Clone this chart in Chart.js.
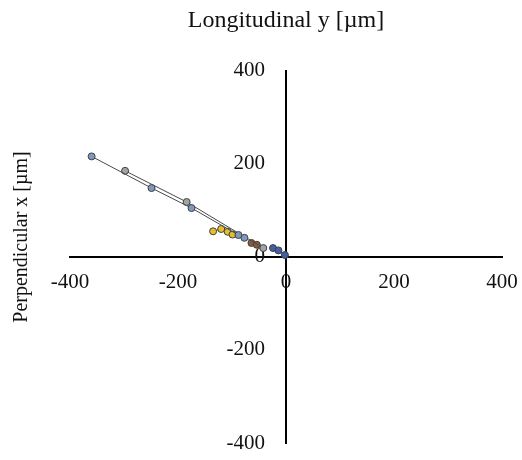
<!DOCTYPE html>
<html>
<head>
<meta charset="utf-8">
<script src="https://cdn.jsdelivr.net/npm/chart.js@4.4.1/dist/chart.umd.min.js"></script>
<style>
html,body{margin:0;padding:0;background:#fff;}
#wrap{position:relative;width:522px;height:460px;}
</style>
</head>
<body>
<div id="wrap"><canvas id="c" width="522" height="460"></canvas></div>
<script>
// Data (x = longitudinal y [µm], y = perpendicular x [µm])
const seriesNames = ['A', 'B', 'C', 'D', 'E'];
const seriesA_x = [-360, -249, -175, -88, -77];
const seriesA_y = [216, 148, 105, 47, 41];
const seriesB_x = [-298, -184, -42];
const seriesB_y = [185, 118, 19];
const seriesC_x = [-135, -120, -108, -99];
const seriesC_y = [55, 60, 54, 48];
const seriesD_x = [-64, -54];
const seriesD_y = [30, 26];
const seriesE_x = [-24, -14, -2];
const seriesE_y = [19, 14, 4];
const seriesColors = ['#7f98c0', '#a3a3a3', '#e3bf2e', '#8a5a3c', '#3f5fa6'];
const axisTicks = [-400, -200, 0, 200, 400];
const titleX = 'Longitudinal y [µm]';
const titleY = 'Perpendicular x [µm]';

const xs = [seriesA_x, seriesB_x, seriesC_x, seriesD_x, seriesE_x];
const ys = [seriesA_y, seriesB_y, seriesC_y, seriesD_y, seriesE_y];

const datasets = seriesNames.map((n, i) => ({
  label: n,
  data: xs[i].map((x, j) => ({x: x, y: ys[i][j]})),
  showLine: true,
  borderColor: '#4a4a4a',
  borderWidth: 1,
  pointBackgroundColor: seriesColors[i],
  pointBorderColor: '#404040',
  pointBorderWidth: 1,
  pointRadius: 3.5,
  fill: false
}));

const serif = "'Liberation Serif', 'Times New Roman', serif";

const yTitlePlugin = {
  id: 'yTitle',
  beforeDraw(chart) {
    // shift y tick labels to the left of the centered axis
    const s = chart.scales.y;
    const items = s.getLabelItems(chart.chartArea);
    items.forEach(it => {
      if (!it._shifted) { it.options.translation[0] -= 21; it._shifted = true; }
    });
  },
  afterDraw(chart) {
    const ctx = chart.ctx;
    ctx.save();
    ctx.translate(22, 237);
    ctx.rotate(-Math.PI / 2);
    ctx.font = "20px " + serif;
    ctx.fillStyle = '#111';
    ctx.textAlign = 'center';
    ctx.textBaseline = 'middle';
    ctx.fillText(titleY, 0, 0);
    ctx.restore();
  }
};

const noPad = (s) => { s.paddingLeft = 0; s.paddingRight = 0; s.paddingTop = 0; s.paddingBottom = 0; };

new Chart(document.getElementById('c'), {
  type: 'scatter',
  data: {datasets},
  options: {
    responsive: false,
    animation: false,
    layout: {padding: {left: 70, right: 20, top: 0, bottom: 17}},
    plugins: {
      legend: {display: false},
      tooltip: {enabled: false},
      title: {
        display: true,
        text: titleX,
        color: '#111',
        font: {family: serif, size: 24, weight: 'normal'},
        padding: {top: 6, bottom: 36}
      }
    },
    scales: {
      x: {
        type: 'linear',
        min: -400, max: 400,
        position: {y: 0},
        afterBuildTicks: (s) => { s.ticks = axisTicks.map(v => ({value: v})); },
        afterFit: noPad,
        grid: {display: false, drawTicks: false},
        border: {display: true, color: '#000', width: 2},
        ticks: {color: '#111', font: {family: serif, size: 21}, padding: 13, maxRotation: 0}
      },
      y: {
        type: 'linear',
        min: -400, max: 400,
        position: {x: 0},
        afterBuildTicks: (s) => { s.ticks = axisTicks.map(v => ({value: v})); },
        afterFit: noPad,
        grid: {display: false, drawTicks: false},
        border: {display: true, color: '#000', width: 2},
        ticks: {color: '#111', font: {family: serif, size: 21}}
      }
    }
  },
  plugins: [yTitlePlugin]
});
</script>
</body>
</html>
